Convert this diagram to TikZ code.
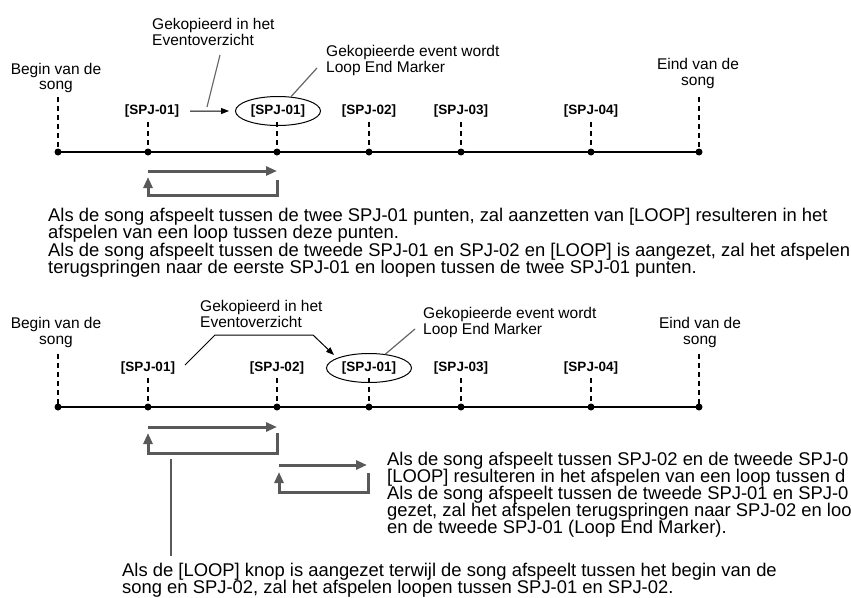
\documentclass[tikz,border=0pt]{standalone}
\usepackage{fontspec}
\setmainfont{Liberation Sans}
\usetikzlibrary{arrows.meta,shapes.geometric}
\definecolor{loopgray}{HTML}{595959}
\definecolor{ptrgray}{HTML}{666666}
\begin{document}
\begin{tikzpicture}[x=1pt,y=-1pt,
 dotn/.style={circle,fill=black,inner sep=0,minimum size=7pt},
 tline/.style={line width=2.5pt},
 dsh/.style={line width=1.2pt,dash pattern=on 5pt off 4pt},
 lbl/.style={inner sep=0,text height=11pt,text depth=3pt,font=\fontsize{15.5}{16}\selectfont},
 spj/.style={inner sep=0,anchor=base,font=\fontsize{13.5}{13.5}\selectfont\bfseries},
 ell/.style={draw,ellipse,line width=1pt,minimum width=85pt,minimum height=29pt,inner sep=0,font=\fontsize{13.5}{13.5}\selectfont\bfseries},
 ptxt/.style={inner sep=0,anchor=base west,text height=12pt,text depth=3pt,font=\fontsize{18.4}{17}\selectfont},
 ptr/.style={draw=ptrgray,line width=1.2pt},
 blk/.style={line width=1pt,-{Triangle[length=8pt,width=6pt]}},
 lp/.style={draw=loopgray,line width=3pt},
 lparr/.style={lp,-{Triangle[length=11pt,width=9pt]}}]
\clip (0,0) rectangle (851,597);
% ================= TOP DIAGRAM =================
\foreach \n/\x in {0/58,1/148,2/277,3/369,4/461,5/591,6/699}
  \node[dotn] (t\n) at (\x,152) {};
\draw[tline] (t0.center) -- (t6.center);
% begin / end labels
\node[lbl,anchor=base] (tb1) at (56,74) {Begin van de};
\node[lbl,anchor=base] (tb2) at (56,89) {song};
\node[lbl,anchor=base] (te1) at (698,69) {Eind van de};
\node[lbl,anchor=base] (te2) at (698,85) {song};
\coordinate (tbd) at (58,97);
\coordinate (ted) at (699,97);
\draw[dsh] (tbd) -- (t0.center);
\draw[dsh] (ted) -- (t6.center);
% SPJ labels
\node[spj] (l1) at (152,114.5) {[SPJ-01]};
\node[ell] (e1) at (278,111) {[SPJ-01]};
\node[spj] (l3) at (369,114.5) {[SPJ-02]};
\node[spj] (l4) at (461,114.5) {[SPJ-03]};
\node[spj] (l5) at (591,114.5) {[SPJ-04]};
\foreach \n/\x in {1/148,2/277,3/369,4/461,5/591}{
  \coordinate (td\n) at (\x,122);
  \draw[dsh] (td\n) -- (t\n.center);
}
\draw[blk] ([xshift=11pt]l1.east) -- ([xshift=-6pt]e1.west);
% annotations
\node[lbl,anchor=base west] (g1) at (152,29) {Gekopieerd in het};
\node[lbl,anchor=base west] (g2) at (152,45) {Eventoverzicht};
\coordinate (p1a) at (220,55);
\coordinate (p1b) at (207,107);
\draw[ptr] (p1a) -- (p1b);
\node[lbl,anchor=base west] (k1) at (326,56) {Gekopieerde event wordt};
\node[lbl,anchor=base west] (k2) at (326,72) {Loop End Marker};
\coordinate (q1) at (317,68);
\draw[ptr] (e1) -- (q1);
% loop
\coordinate (la1) at (148,171);
\coordinate (la2) at (277,171);
\coordinate (lb1) at (277,180);
\coordinate (lb2) at (277,195);
\coordinate (lb3) at (148,195);
\coordinate (lb4) at (148,177);
\draw[lparr] (la1) -- (la2);
\draw[lparr] (lb1) -- (lb2) -- (lb3) -- (lb4);
% paragraph
\node[ptxt] (pa1) at (48,221) {Als de song afspeelt tussen de twee SPJ-01 punten, zal aanzetten van [LOOP] resulteren in het};
\node[ptxt] (pa2) at (48,238) {afspelen van een loop tussen deze punten.};
\node[ptxt] (pa3) at (48,256) {Als de song afspeelt tussen de tweede SPJ-01 en SPJ-02 en [LOOP] is aangezet, zal het afspelen};
\node[ptxt] (pa4) at (48,273) {terugspringen naar de eerste SPJ-01 en loopen tussen de twee SPJ-01 punten.};
% ================= BOTTOM DIAGRAM =================
\foreach \n/\x in {0/58,1/148,2/277,3/369,4/461,5/591,6/699}
  \node[dotn] (b\n) at (\x,407) {};
\draw[tline] (b0.center) -- (b6.center);
\node[lbl,anchor=base] (bb1) at (56,328) {Begin van de};
\node[lbl,anchor=base] (bb2) at (56,344) {song};
\node[lbl,anchor=base] (be1) at (700,328) {Eind van de};
\node[lbl,anchor=base] (be2) at (700,344) {song};
\coordinate (bbd) at (58,354);
\coordinate (bed) at (699,354);
\draw[dsh] (bbd) -- (b0.center);
\draw[dsh] (bed) -- (b6.center);
\node[spj] (m1) at (148,371) {[SPJ-01]};
\node[spj] (m2) at (277,371) {[SPJ-02]};
\node[ell] (e2) at (369,368) {[SPJ-01]};
\node[spj] (m4) at (461,371) {[SPJ-03]};
\node[spj] (m5) at (591,371) {[SPJ-04]};
\foreach \n/\x in {1/148,2/277,3/369,4/461,5/591}{
  \coordinate (bd\n) at (\x,378);
  \draw[dsh] (bd\n) -- (b\n.center);
}
\node[lbl,anchor=base west] (h1) at (200,311) {Gekopieerd in het};
\node[lbl,anchor=base west] (h2) at (200,327) {Eventoverzicht};
\coordinate (c1) at (185,365);
\coordinate (c2) at (215,335);
\coordinate (c3) at (313,335);
\coordinate (c4) at (334,355);
\draw[blk] (c1) -- (c2) -- (c3) -- (c4);
\node[lbl,anchor=base west] (n1) at (423,318) {Gekopieerde event wordt};
\node[lbl,anchor=base west] (n2) at (423,334) {Loop End Marker};
\coordinate (q2) at (415,329);
\draw[ptr] (e2) -- (q2);
% loop 1
\coordinate (ma1) at (148,427);
\coordinate (ma2) at (277,427);
\coordinate (mb1) at (277,433);
\coordinate (mb2) at (277,453);
\coordinate (mb3) at (148,453);
\coordinate (mb4) at (148,433);
\draw[lparr] (ma1) -- (ma2);
\draw[lparr] (mb1) -- (mb2) -- (mb3) -- (mb4);
% loop 2
\coordinate (na1) at (279,465);
\coordinate (na2) at (367,465);
\coordinate (nb1) at (368,473);
\coordinate (nb2) at (368,492);
\coordinate (nb3) at (279,492);
\coordinate (nb4) at (279,472);
\draw[lparr] (na1) -- (na2);
\draw[lparr] (nb1) -- (nb2) -- (nb3) -- (nb4);
% pointer to bottom text
\coordinate (v1) at (171,459);
\coordinate (v2) at (171,556);
\draw[draw=loopgray,line width=1.8pt] (v1) -- (v2);
% right paragraph
\node[ptxt] (r1) at (387,465) {Als de song afspeelt tussen SPJ-02 en de tweede SPJ-0};
\node[ptxt] (r2) at (387,482) {[LOOP] resulteren in het afspelen van een loop tussen d};
\node[ptxt] (r3) at (387,499) {Als de song afspeelt tussen de tweede SPJ-01 en SPJ-0};
\node[ptxt] (r4) at (387,516) {gezet, zal het afspelen terugspringen naar SPJ-02 en loo};
\node[ptxt] (r5) at (387,533) {en de tweede SPJ-01 (Loop End Marker).};
% bottom paragraph
\node[ptxt] (s1) at (122,576) {Als de [LOOP] knop is aangezet terwijl de song afspeelt tussen het begin van de};
\node[ptxt] (s2) at (122,593) {song en SPJ-02, zal het afspelen loopen tussen SPJ-01 en SPJ-02.};
\end{tikzpicture}
\end{document}
